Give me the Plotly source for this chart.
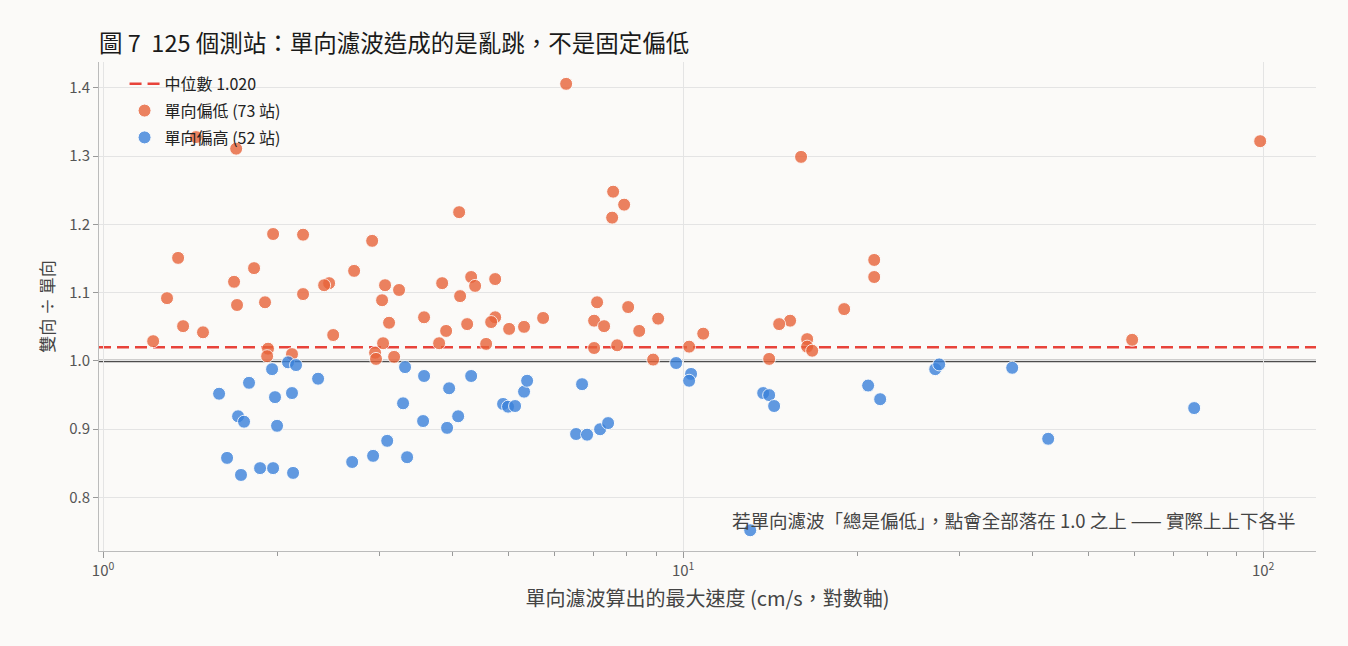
import plotly.graph_objects as go

# 單向偏低 (73 站): 單向最大速度 (cm/s) 與 雙向÷單向 比值
low_speed = [6.285, 98.8, 1.446, 1.696, 15.97, 7.574, 7.912, 7.544, 4.110, 1.964,
             2.212, 2.910, 1.347, 21.35, 21.35, 1.821, 2.709, 1.682, 4.311, 4.742,
             3.842, 2.453, 2.405, 3.063, 3.238, 2.212, 4.379, 4.126, 1.289, 3.027,
             1.902, 7.107, 1.702, 8.039, 18.95, 4.742, 3.576, 5.736, 9.056, 4.667,
             7.023, 15.29, 14.64, 1.374, 4.243, 3.112, 5.012, 5.318, 3.903, 8.400,
             1.487, 10.83, 2.493, 1.220, 16.36, 59.44, 3.796, 4.575, 3.039, 7.023,
             7.695, 10.24, 16.36, 16.69, 1.925, 2.117, 1.918, 2.944, 2.955, 3.175,
             8.877, 14.07, 7.307]
low_ratio = [1.406, 1.322, 1.328, 1.311, 1.299, 1.248, 1.229, 1.210, 1.218, 1.186,
             1.185, 1.176, 1.151, 1.148, 1.123, 1.136, 1.132, 1.116, 1.123, 1.120,
             1.114, 1.114, 1.111, 1.111, 1.104, 1.098, 1.110, 1.095, 1.092, 1.089,
             1.086, 1.086, 1.082, 1.079, 1.076, 1.064, 1.064, 1.063, 1.062, 1.057,
             1.059, 1.059, 1.054, 1.051, 1.054, 1.056, 1.047, 1.050, 1.044, 1.044,
             1.042, 1.040, 1.038, 1.029, 1.032, 1.031, 1.026, 1.025, 1.026, 1.019,
             1.023, 1.021, 1.021, 1.015, 1.018, 1.010, 1.007, 1.012, 1.003, 1.006,
             1.002, 1.003, 1.051]

# 單向偏高 (52 站)
high_speed = [9.725, 1.585, 1.785, 2.084, 2.151, 1.956, 2.348, 1.979, 2.117, 1.709,
              1.750, 1.995, 1.636, 1.729, 1.865, 1.964, 2.126, 2.688, 2.921, 3.089,
              3.316, 3.290, 3.343, 3.576, 3.562, 3.950, 3.918, 4.094, 4.311, 4.893,
              4.991, 5.132, 5.318, 5.383, 6.695, 6.538, 6.830, 7.192, 7.424, 10.32,
              10.24, 13.74, 14.07, 14.35, 13.05, 20.84, 21.86, 27.20, 27.63, 36.92,
              42.59, 76.03]
high_ratio = [0.997, 0.952, 0.968, 0.998, 0.994, 0.988, 0.974, 0.947, 0.953, 0.919,
              0.911, 0.905, 0.858, 0.833, 0.843, 0.843, 0.836, 0.852, 0.861, 0.883,
              0.991, 0.938, 0.859, 0.978, 0.912, 0.960, 0.902, 0.919, 0.978, 0.937,
              0.933, 0.934, 0.955, 0.971, 0.966, 0.893, 0.892, 0.900, 0.909, 0.981,
              0.971, 0.953, 0.950, 0.934, 0.752, 0.964, 0.944, 0.988, 0.995, 0.990,
              0.886, 0.931]

median_ratio = 1.020

x_tickvals = [1, 10, 100]
x_ticktext = ["10<sup>0</sup>", "10<sup>1</sup>", "10<sup>2</sup>"]

font_main = "Noto Sans CJK TC, Noto Sans, sans-serif"
bg = "#fbfaf8"

fig = go.Figure()

# legend entry for the median line (drawn as a shape below)
fig.add_trace(go.Scatter(x=[None], y=[None], mode="lines", legendgroup="a",
                         line=dict(color="#e8433a", width=2.5, dash="12px,6px"),
                         name=f"中位數 {median_ratio:.3f}"))

fig.add_trace(go.Scatter(x=low_speed, y=low_ratio, mode="markers", legendgroup="b",
                         name=f"單向偏低 ({len(low_speed)} 站)",
                         marker=dict(size=13, color="#e8643a", opacity=0.8,
                                     line=dict(color="white", width=1))))
fig.add_trace(go.Scatter(x=high_speed, y=high_ratio, mode="markers", legendgroup="c",
                         name=f"單向偏高 ({len(high_speed)} 站)",
                         marker=dict(size=13, color="#3b82db", opacity=0.8,
                                     line=dict(color="white", width=1))))

fig.add_hline(y=1.0, line=dict(color="#4d4d4d", width=2.5), layer="below")
fig.add_hline(y=median_ratio, line=dict(color="#e8433a", width=2.5, dash="12px,6px"),
              layer="below")

fig.add_annotation(x=1, xref="paper", y=0.767, yref="y", xanchor="right",
                   text="若單向濾波「總是偏低」，點會全部落在 1.0 之上 —— 實際上上下各半",
                   showarrow=False, font=dict(size=18.5, color="#444444"), xshift=-18)

fig.update_layout(
    width=1348, height=646,
    paper_bgcolor=bg, plot_bgcolor=bg,
    font=dict(family=font_main, color="#444444", size=14),
    margin=dict(l=99, r=32, t=62, b=95),
    title=dict(text="圖 7  125 個測站：單向濾波造成的是亂跳，不是固定偏低",
               x=0, xref="paper", y=0.932, yanchor="middle",
               font=dict(size=23.5, color="#1a1a1a")),
    legend=dict(x=0.021, y=0.99, xanchor="left", yanchor="top", tracegroupgap=3,
                bgcolor="rgba(0,0,0,0)", font=dict(size=16, color="#222222")),
    showlegend=True,
)

fig.update_xaxes(type="log", range=[-0.007, 2.091],
                 title=dict(text="單向濾波算出的最大速度 (cm/s，對數軸)",
                            font=dict(size=20, color="#444444"), standoff=12),
                 tickvals=x_tickvals, ticktext=x_ticktext,
                 showgrid=True, gridcolor="#e4e4e4", gridwidth=1,
                 showline=True, linecolor="#bbbbbb", linewidth=1,
                 ticks="outside", ticklen=6, tickcolor="#999999",
                 minor=dict(ticks="outside", ticklen=4, tickcolor="#999999",
                            dtick="D1", showgrid=False),
                 tickfont=dict(size=15, color="#555555"), zeroline=False)
fig.update_yaxes(range=[0.7216, 1.438], dtick=0.1, tickformat=".1f",
                 title=dict(text="雙向 ÷ 單向", font=dict(size=17, color="#444444"),
                            standoff=10),
                 showgrid=True, gridcolor="#e4e4e4", gridwidth=1,
                 showline=True, linecolor="#bbbbbb", linewidth=1,
                 ticks="outside", ticklen=5, tickcolor="#999999",
                 tickfont=dict(size=15, color="#555555"), zeroline=False)

fig.write_html("out.html", config={"displayModeBar": False},
               post_script="document.body.style.margin='0';"
                           "document.body.style.background='#fbfaf8';")
